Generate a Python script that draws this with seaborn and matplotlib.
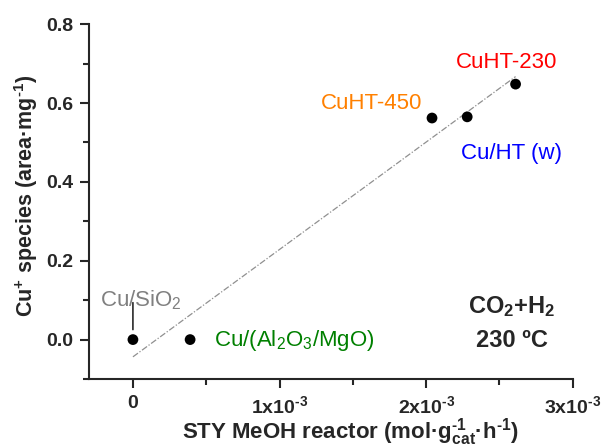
import numpy as np
import pandas as pd
import matplotlib
matplotlib.use("Agg")
import matplotlib.pyplot as plt
import seaborn as sns
from matplotlib.ticker import MultipleLocator, FixedLocator, FixedFormatter

# ---- data ----
catalysts = ["Cu/SiO2", "Cu/(Al2O3/MgO)", "CuHT-450", "Cu/HT (w)", "CuHT-230"]
sty = [0.0, 0.39e-3, 2.04e-3, 2.28e-3, 2.61e-3]
cu_plus = [0.0, 0.0, 0.562, 0.565, 0.648]
label_texts = [r"Cu/SiO$_2$", r"Cu/(Al$_2$O$_3$/MgO)", "CuHT-450", "Cu/HT (w)", "CuHT-230"]
label_colors = ["#808080", "#008000", "#ff8000", "#0000ff", "#ff0000"]
xtick_vals = [0, 1e-3, 2e-3, 3e-3]
xtick_labels = ["0", "1x10$^{\\mathbf{\u20103}}$", "2x10$^{\\mathbf{\u20103}}$",
                "3x10$^{\\mathbf{\u20103}}$"]
ytick_vals = [0.0, 0.2, 0.4, 0.6, 0.8]
ytick_labels = ["0.0", "0.2", "0.4", "0.6", "0.8"]

df = pd.DataFrame({"catalyst": catalysts, "sty": sty, "cu": cu_plus})

sns.set_style("ticks")
plt.rcParams["font.family"] = ["Liberation Sans", "DejaVu Sans"]
plt.rcParams["mathtext.fontset"] = "custom"
plt.rcParams["mathtext.rm"] = "Liberation Sans"
plt.rcParams["mathtext.it"] = "Liberation Sans:italic"
plt.rcParams["mathtext.bf"] = "Liberation Sans:bold"

fig = plt.figure(figsize=(6.01, 4.48), dpi=100)
ax = fig.add_axes([0.148, 0.154, 0.805, 0.792])

sns.regplot(data=df, x="sty", y="cu", ax=ax, scatter=False, ci=None,
            line_kws=dict(color="#909090", lw=0.9, ls=(0, (5, 1.5, 1, 1.5))))
sns.scatterplot(data=df, x="sty", y="cu", ax=ax, color="black", s=60,
                edgecolor="none", zorder=5)

ax.set_xlim(-0.3e-3, 3e-3)
ax.set_ylim(-0.1, 0.8)

# labels positions (data coords)
pos = [(-0.225e-3, 0.10, "left"), (0.55e-3, -0.003, "left"),
       (1.63e-3, 0.600, "center"), (2.58e-3, 0.473, "center"),
       (2.55e-3, 0.703, "center")]
for (x, y, ha), t, c in zip(pos, label_texts, label_colors):
    ax.text(x, y, t, color=c, fontsize=16, ha=ha, va="center")

# connector line for Cu/SiO2
ax.annotate("", xy=(sty[0], 0.025), xytext=(sty[0], 0.094),
            arrowprops=dict(arrowstyle="-", color="black", lw=1.0,
                            shrinkA=0, shrinkB=0))

ax.text(2.585e-3, 0.083, r"CO$_{\mathbf{2}}$+H$_{\mathbf{2}}$", fontsize=17,
        fontweight="bold", ha="center", va="center")
ax.text(2.585e-3, -0.003, "230 ºC", fontsize=17, fontweight="bold",
        ha="center", va="center")

ax.xaxis.set_major_locator(FixedLocator(xtick_vals))
ax.xaxis.set_major_formatter(FixedFormatter(xtick_labels))
ax.xaxis.set_minor_locator(MultipleLocator(0.5e-3))
ax.set_yticks(ytick_vals)
ax.set_yticklabels(ytick_labels)
ax.yaxis.set_minor_locator(MultipleLocator(0.1))

ax.tick_params(axis="both", which="major", direction="out", length=6.5, width=1.5,
               labelsize=14)
ax.tick_params(axis="x", which="major", pad=5)
ax.tick_params(axis="y", which="major", pad=5)
ax.tick_params(axis="both", which="minor", direction="out", length=4, width=1.5)
for lab in ax.get_xticklabels() + ax.get_yticklabels():
    lab.set_fontweight("bold")

for s in ["left", "bottom"]:
    ax.spines[s].set_linewidth(1.5)
sns.despine(ax=ax)

ax.set_xlabel("STY MeOH reactor (mol·g$^{\\mathbf{\u20101}}_{\\mathbf{cat}}$·h$^{\\mathbf{\u20101}}$)",
              fontsize=16, fontweight="bold")
ax.set_ylabel("Cu$^{\\mathbf{+}}$ species (area·mg$^{\\mathbf{\u20101}}$)",
              fontsize=15.5, fontweight="bold")
ax.xaxis.set_label_coords(0.54, -0.168)
ax.xaxis.label.set_va("baseline")
ax.yaxis.set_label_coords(-0.1157, 0.515)
ax.yaxis.label.set_va("baseline")

fig.savefig("out.png", dpi=100)
